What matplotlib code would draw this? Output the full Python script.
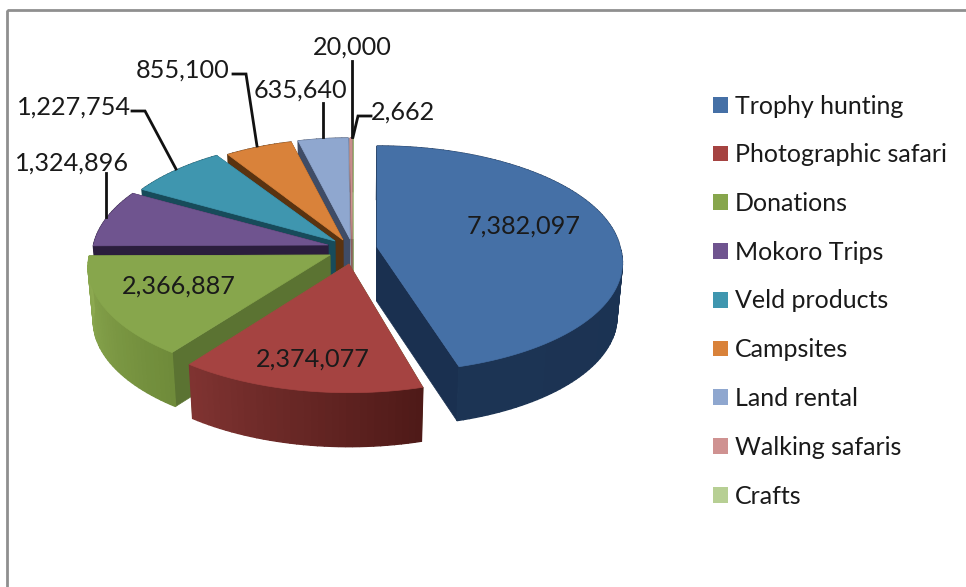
import numpy as np
import matplotlib
matplotlib.use("Agg")
import matplotlib.pyplot as plt
from matplotlib.patches import Patch, Rectangle
from matplotlib.colors import to_rgb

# ---- data ----
categories = ["Trophy hunting", "Photographic safari", "Donations", "Mokoro Trips",
              "Veld products", "Campsites", "Land rental", "Walking safaris", "Crafts"]
values = [7382097, 2374077, 2366887, 1324896, 1227754, 855100, 635640, 20000, 2662]

# ---- style ----
top_colors = ["#4570a6", "#a54341", "#87a64c", "#6f548f", "#3f96af", "#d9823a",
              "#8fa7cf", "#cf9291", "#b7cf94"]
cut_colors = ["#1a3050", "#5b7332", "#5b7332", "#2b1e3d", "#174b5a", "#5a3310",
              "#3f4c66", "#8c5f5e", "#7f9a5c"]
rim_start = ["#1a3050", "#4f1a18", "#6f8b3a", "#2b1e3d", "#174b5a", "#5a3310",
             "#3f4c66", "#8c5f5e", "#7f9a5c"]   # at the clockwise start of each slice
rim_end = ["#1c3454", "#7f3331", "#8ca950", "#2b1e3d", "#174b5a", "#5a3310",
           "#3f4c66", "#8c5f5e", "#7f9a5c"]
apex_x = [377, 349, 330, 328, 335, 343, 350, 352, 353]
apex_y = [247, 264, 255, 245, 241, 240, 239, 239, 239]
rx_scale = [1.0, 1.0, 0.99, 0.965, 0.955, 0.93, 0.93, 1.0, 1.0]
ry_scale = [1.0, 1.03, 1.0, 1.0, 1.0, 1.0, 1.0, 1.0, 1.0]
shear_low = [8.5, 0, 0, 0, 0, 0, 0, 0, 0]
RX, RY, PERSP, DEPTH, NARROW, NARROW_X = 243, 111.7, 0.106, 54, 0.98, 350

label_xy = [(524, 226), (313, 359), (179, 286), (72, 163), (74, 107),
            (183, 70), (300, 90), (352, 47), (403, 112)]
leaders = {3: [(106, 173), (106, 217)],
           4: [(132, 111), (145, 111), (176, 169)],
           5: [(233, 74), (246, 74), (257, 146)],
           6: [(323, 103), (323, 137)],
           7: [(352, 61), (352, 137)],
           8: [(371, 116), (358, 116), (353, 137)]}
FONT = "Lato"
FS = 18.2
FS_LEG = 18.0

fig = plt.figure(figsize=(9.66, 5.87), dpi=100, facecolor="white")
ax = fig.add_axes([0, 0, 1, 1])
ax.set_xlim(0, 966)
ax.set_ylim(587, 0)
ax.axis("off")

# frame (open at right / bottom where the source is cropped)
ax.add_patch(Rectangle((6.5, 9.5), 1000, 640, fill=False, ec="#8f8f8f", lw=2))


def project(i, ang):
    X, Y = np.cos(ang), np.sin(ang)
    w = 1 + PERSP * Y
    sx = apex_x[i] + RX * rx_scale[i] * X / w + shear_low[i] * np.maximum(0, -Y)
    sy = apex_y[i] - RY * ry_scale[i] * Y / w
    return sx, sy


def lower(px, py):
    return NARROW_X + (px - NARROW_X) * NARROW, py + DEPTH


frac = np.array(values) / np.sum(values)
edges = np.deg2rad(90 - 360 * np.concatenate([[0], np.cumsum(frac)]))

order = [8, 7, 6, 5, 4, 3, 2, 0, 1]
for rank, i in enumerate(order):
    z = 2 + rank * 0.1
    a0, a1 = edges[i], edges[i + 1]
    n = max(3, int(abs(a1 - a0) * 40))
    th = np.linspace(a0, a1, n)
    px, py = project(i, th)
    qx, qy = lower(px, py)
    ax0, ay0 = apex_x[i], apex_y[i]
    bx0, by0 = lower(ax0, ay0)
    # cut faces
    for k in (0, -1):
        ax.fill([ax0, px[k], qx[k], bx0], [ay0, py[k], qy[k], by0],
                fc=cut_colors[i], ec=cut_colors[i], lw=0.5, zorder=z)
    # rim, shaded along the arc
    c0, c1 = np.array(to_rgb(rim_start[i])), np.array(to_rgb(rim_end[i]))
    for k in range(n - 1):
        t = k / max(1, n - 2)
        col = tuple(c0 + (c1 - c0) * t)
        ax.fill([px[k], px[k + 1], qx[k + 1], qx[k]],
                [py[k], py[k + 1], qy[k + 1], qy[k]],
                fc=col, ec=col, lw=1, zorder=z)
    # top face
    ax.fill(np.r_[ax0, px], np.r_[ay0, py], fc=top_colors[i], ec=top_colors[i],
            lw=0.5, zorder=z)

# leader lines
for pts in leaders.values():
    xs, ys = zip(*pts)
    ax.plot(xs, ys, color="#111111", lw=2, solid_joinstyle="miter", zorder=5)

# data labels
for v, (x, y) in zip(values, label_xy):
    ax.text(x, y, f"{v:,}", ha="center", va="center", family=FONT, fontsize=FS,
            color="#1a1a1a", zorder=6)

# legend
handles = [Patch(fc=c, ec="none") for c in top_colors]
leg = ax.legend(handles, categories, loc="upper left", bbox_to_anchor=(713 / 966, 1 - 94.5 / 587),
                frameon=False, prop={"family": FONT, "size": FS_LEG}, labelspacing=1.03,
                handlelength=0.6, handleheight=0.6, handletextpad=0.28,
                borderpad=0, borderaxespad=0)
for t in leg.get_texts():
    t.set_color("#1a1a1a")

fig.savefig("out.png", dpi=100)
